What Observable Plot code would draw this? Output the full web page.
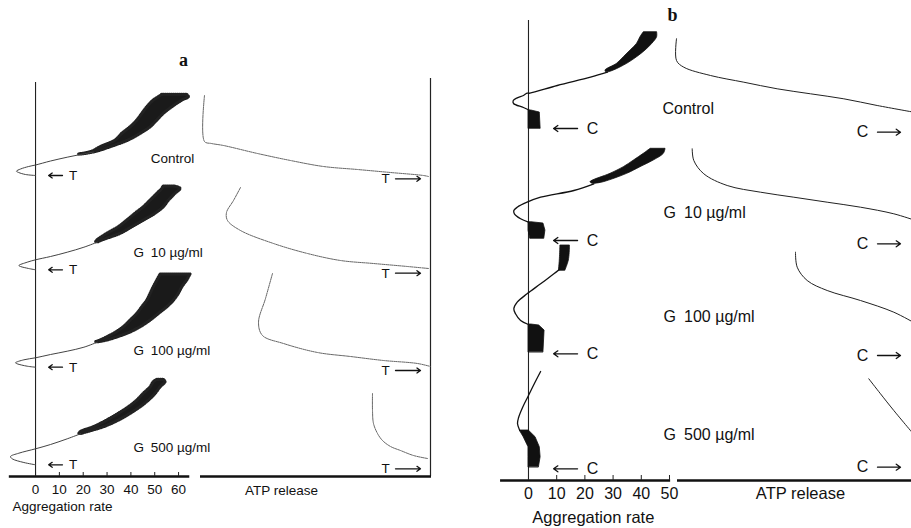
<!DOCTYPE html>
<html><head><meta charset="utf-8">
<script src="https://cdn.jsdelivr.net/npm/d3@7"></script>
<script src="https://cdn.jsdelivr.net/npm/@observablehq/plot@0.6"></script>
<style>
html,body{margin:0;padding:0;background:#fff;}
#fig{position:relative;width:911px;height:528px;overflow:hidden;background:#fff;}
#fig svg{position:absolute;top:0;overflow:visible;}
</style></head><body><div id="fig"></div>
<script>
// ---------- tick labels & conditions ----------
const aTicks = [0, 10, 20, 30, 40, 50, 60];
const bTicks = [0, 10, 20, 30, 40, 50];
const conditions = ["Control", "G\u200210 µg/ml", "G\u2002100 µg/ml", "G\u2002500 µg/ml"];

// ---------- panel a: aggregation traces ----------
// start of trace: [rate, time]
const aCtrlLine = [[0,301],[-4.2,302],[-7.1,304],[-8.0,305.3],[-6.3,307.5],[-2.9,310],[0,311.5],[6.3,315.5],[13.3,319.3],[18.9,322],[24.4,324.5]];
const a10Line   = [[0,206.7],[-2.9,208],[-6.3,210],[-7.0,211],[-3.5,214.3],[0,216.7],[6.3,220],[13.3,224.3],[20.3,229.3],[25.9,234.3]];
const a100Line  = [[0,109.3],[-3.5,110.3],[-7.7,112.7],[-8.4,113.7],[-4.9,116.7],[0,118.7],[6.3,122],[13.3,125.3],[20.3,129.3],[25.9,134.3]];
const a500Line  = [[0,11.7],[-4.9,14],[-9.8,17.7],[-10.5,20],[-7,23.3],[0,27.7],[6.3,32],[13.3,37.7],[18.9,42.7]];
// oscillating band: [time, low rate, high rate]
const aCtrlBand = [[322,18.3,19.3],[324.5,23.5,25.2],[329.3,27.3,31.5],[336,33.6,39],[342.7,36.4,44.1],[349.3,39.9,48.3],[356,42.7,51.1],[362.7,44.8,53.8],[369.3,46.9,57.4],[376,49.6,61.6],[379.3,51.7,64.3],[381.7,53.2,63.6]];
const a10Band   = [[234.3,25.4,26.4],[236,25.9,28],[242.7,30.1,35.7],[249.3,34.9,40.6],[256,38.5,45.5],[262.7,41.9,50.3],[269.3,45.4,53.8],[276,48.3,56],[282.7,51.1,58.7],[287.7,53.2,60.8],[290,53.7,57.9]];
const a100Band  = [[134.3,25.4,26.4],[136,27.3,30.1],[142.7,32.9,38.5],[149.3,37,44.1],[156,39.9,48.3],[162.7,42.7,51.8],[169.3,44.8,55.3],[176,46.9,58.1],[182.7,48.3,60.1],[189.3,49.6,61.6],[196,51.1,63.6],[202,52.5,65]];
const a500Band  = [[42.7,18.4,19.4],[44.3,18.9,21.7],[49.3,24.5,28.7],[56,30.1,35],[62.7,34.9,39.9],[69.3,39.2,44.1],[76,42.7,47.6],[82.7,45.4,50.4],[89.3,48.3,52.5],[94.3,49.6,54.5],[96.7,51.1,53.8]];
// ATP release traces: [ATP (arb. units, 0 at baseline), time]
const aCtrlATP = [[226,381],[226,335],[219,333],[207,331],[173,323],[140,316],[107,310],[73,307],[40,304],[7,301],[2,300]];
const a10ATP   = [[190,289],[197,276],[204,264],[203,256],[190,246],[157,233],[123,223],[90,216],[57,213],[23,210],[2,208]];
const a100ATP  = [[158,203],[165,178],[172,154],[168,141],[147,133],[113,124],[80,120],[47,116],[13,113],[0,110]];
const a500ATP  = [[58,83],[58,66],[57,53],[53,43],[48,36],[40,30],[30,26],[17,21],[3,18]];
// stimulus (T = thrombin) marks, time
const aStimAgg = [301, 206.7, 109.3, 11.7];
const aStimATP = [297.7, 203.3, 106, 7.7];

// ---------- panel b ----------
const bCtrlBlock = [[352,0,4.3],[368,0,4.0],[370,0,1]];
const b10Block   = [[242,0.6,5.6],[250,0,6.0],[257,0,5.3],[258.3,0,1]];
const b100Block  = [[128.3,0,5.3],[150,0,5.7],[155,0,3.8],[156,0,1]];
const b500Block  = [[13.3,0,3.7],[23.3,0,4.3],[33.3,0,4.0],[43.3,-1.7,2.5],[50,-3.1,0.1]];
const bCtrlLine = [[0.5,370],[-1.8,373],[-5.3,377],[-5.4,380],[-4,382.7],[-1.8,385],[-0.5,387.3],[0.5,387.3],[10.2,395],[22,403.3],[28,408.3]];
const b10Line   = [[0,258.3],[-2.8,261.7],[-5,266.7],[-5.2,270],[-4,273.3],[-0.5,278.3],[4.3,283.3],[16.1,290],[23.2,296.7]];
const b100Line  = [[0,156],[-2.8,160],[-4.6,166.7],[-5.2,171.7],[-4,178.3],[-0.5,186.7],[4.3,196.7],[9,206.7],[11.3,211.7]];
const b500Line  = [[-3.1,50],[-3.9,57],[-3.5,63],[-2.1,73],[0,85],[2.1,97],[4.3,109]];
const bCtrlBand = [[408.3,27.5,28.5],[410,27.3,30.3],[416.7,31.4,35],[423.3,33.8,38.5],[430,36.2,41.5],[436.7,38.5,43.9],[443.3,39.7,45.6],[448.3,40.9,45.6]];
const b10Band   = [[296.7,22.7,23.7],[298.3,22,26.7],[306.7,29.1,35],[313.3,33.8,39.7],[320,37.4,44.4],[326.7,40.9,48],[331.7,43.3,48.6]];
const b100Band  = [[210,10.8,13.1],[220,11.1,14.3],[233.3,11.3,14.7],[235,11.3,14.7]];
const bCtrlATP = [[239,441.7],[239,420],[231.7,413.3],[205,405],[171.7,398.3],[138.3,391.7],[105,386.7],[71.7,381.7],[38.3,375],[0,368]];
const b10ATP   = [[223.3,331.7],[221.7,320],[211.7,306.7],[188.3,295],[155,288.3],[121.7,283.3],[88.3,278.3],[55,273.3],[21.7,266.7],[0,260]];
const b100ATP  = [[120,228.3],[118.3,213.3],[108.3,200],[88.3,190],[55,180],[21.7,168.3],[0,157]];
const b500ATP  = [[46.7,101.7],[35,86.7],[21.7,70],[0,44]];
// stimulus (C = collagen) marks, time
const bStimAgg = [352, 240, 126.7, 11.7];
const bStimATP = [348.3, 236.7, 125, 13.3];

// ---------- helpers ----------
const pts = (arrs) => arrs.flatMap((a, i) => a.map(([x, t]) => ({x, t, c: conditions[i]})));
const bands = (arrs) => arrs.flatMap((a, i) => a.map(([t, x1, x2]) => ({t, x1, x2, c: conditions[i]})));
const SANS = "Liberation Sans, Arial, Helvetica, sans-serif";
const SERIF = "Liberation Serif, Times New Roman, serif";
const fig = document.getElementById("fig");
function place(svg, left) { svg.style.left = left + "px"; fig.appendChild(svg); }
const base = (w, xd, yd) => ({
  width: w, height: 528, margin: 0,
  x: {domain: xd, range: [0, w], axis: null},
  y: {domain: yd, range: [528, 0], axis: null},
  style: {overflow: "visible", background: "transparent", fontFamily: SANS, color: "#111"}
});
const aBandData = bands([aCtrlBand, a10Band, a100Band, a500Band]);

// ---------- panel a, aggregation ----------
place(Plot.plot({
  ...base(200, [-14.7, 69.2], [-52, 476]),
  marks: [
    Plot.ruleX([0], {y1: 0, y2: 394, stroke: "#222", strokeWidth: 1.1}),
    Plot.ruleY([0], {x1: -11, x2: 64.7, stroke: "#111", strokeWidth: 2.6}),
    Plot.ruleX(aTicks, {x: d => d, y1: 0, y2: 4, stroke: "#222", strokeWidth: 1}),
    Plot.text(aTicks, {x: d => d, y: -13, text: d => String(d), fontSize: 13.5, fill: "#111"}),
    Plot.text(["Aggregation rate"], {x: 11.3, y: -30, text: d => d, fontSize: 13.5, fill: "#111"}),
    Plot.areaX(aBandData, {y: "t", x1: "x1", x2: "x2", z: "c", fill: "#1a1a1a", curve: "catmull-rom"}),
    Plot.areaX(aBandData, {y: "t", x1: "x1", x2: "x2", z: "c", fill: "none", stroke: "#222", strokeWidth: 3.2, strokeDasharray: "0.7,1.3", curve: "catmull-rom"}),
    Plot.line(pts([aCtrlLine, a10Line, a100Line, a500Line]), {x: "x", y: "t", z: "c", stroke: "#444", strokeWidth: 1, curve: "catmull-rom"}),
    Plot.arrow(aStimAgg, {x1: 11.3, x2: 5.5, y1: d => d, y2: d => d, headLength: 5, headAngle: 70, strokeWidth: 1.3, stroke: "#111", insetStart: 0, insetEnd: 0}),
    Plot.text(aStimAgg, {x: 15.8, y: d => d, text: () => "T", fontSize: 13.5, fill: "#111"}),
    Plot.text(conditions, {x: (d, i) => i === 0 ? 48.3 : 41.1, y: (d, i) => aStimAgg[i] + 17, text: d => d, textAnchor: "start", fontSize: 13.5, fill: "#111"}),
    Plot.text(["a"], {x: 62.1, y: 416, text: d => d, fontFamily: SERIF, fontWeight: "bold", fontSize: 18, fill: "#111"})
  ]
}), 0);

// ---------- panel a, ATP release ----------
place(Plot.plot({
  ...base(240, [230, -10], [-52, 476]),
  marks: [
    Plot.ruleX([0], {y1: 0, y2: 398, stroke: "#222", strokeWidth: 1.2}),
    Plot.ruleY([0], {x1: 230, x2: -1, stroke: "#111", strokeWidth: 2.6}),
    Plot.text(["ATP release"], {x: 149, y: -14, text: d => d, fontSize: 13.5, fill: "#111"}),
    Plot.line(pts([aCtrlATP, a10ATP, a100ATP, a500ATP]), {x: "x", y: "t", z: "c", stroke: "#555", strokeWidth: 0.9, strokeDasharray: "3,1", curve: "catmull-rom"}),
    Plot.arrow(aStimATP, {x1: 35, x2: 10, y1: d => d, y2: d => d, headLength: 5, headAngle: 70, strokeWidth: 1.3, stroke: "#111", insetStart: 0, insetEnd: 0}),
    Plot.text(aStimATP, {x: 45, y: d => d, text: () => "T", fontSize: 13.5, fill: "#111"})
  ]
}), 200);

// ---------- panel b, aggregation ----------
place(Plot.plot({
  ...base(235, [-31.2, 52.13], [-48, 480]),
  marks: [
    Plot.ruleX([0], {y1: 0, y2: 460, stroke: "#222", strokeWidth: 1.1}),
    Plot.ruleY([0], {x1: -9.9, x2: 50.4, stroke: "#111", strokeWidth: 2.6}),
    Plot.ruleX(bTicks, {x: d => d, y1: 0, y2: 5, stroke: "#222", strokeWidth: 1}),
    Plot.text(bTicks, {x: d => d, y: -13, text: d => String(d), fontSize: 16, fill: "#111"}),
    Plot.text(["Aggregation rate"], {x: 23, y: -37, text: d => d, fontSize: 16.5, fill: "#111", letterSpacing: "0.8px"}),
    Plot.areaX(bands([bCtrlBlock, b10Block, b100Block, b500Block]), {y: "t", x1: "x1", x2: "x2", z: "c", fill: "#111", stroke: "#111", strokeWidth: 0.8}),
    Plot.areaX(bands([bCtrlBand, b10Band, b100Band]), {y: "t", x1: "x1", x2: "x2", z: "c", fill: "#111", stroke: "#111", strokeWidth: 0.8, curve: "catmull-rom"}),
    Plot.line(pts([bCtrlLine, b10Line, b100Line, b500Line]), {x: "x", y: "t", z: "c", stroke: "#111", strokeWidth: 1.3, curve: "catmull-rom"}),
    Plot.arrow(bStimAgg, {x1: 17.4, x2: 8.9, y1: d => d, y2: d => d, headLength: 6, headAngle: 70, strokeWidth: 1.3, stroke: "#111", insetStart: 0, insetEnd: 0}),
    Plot.text(bStimAgg, {x: 22.7, y: d => d, text: () => "C", fontSize: 16, fill: "#111"}),
    Plot.text(conditions, {x: (d, i) => i === 0 ? 47.5 : 47.9, y: (d, i) => [372, 268, 164, 46][i], text: d => d, textAnchor: "start", fontSize: 16, fill: "#111"}),
    Plot.text(["b"], {x: 51.1, y: 465, text: d => d, fontFamily: SERIF, fontWeight: "bold", fontSize: 18, fill: "#111"})
  ]
}), 440);

// ---------- panel b, ATP release ----------
place(Plot.plot({
  ...base(236, [240, 4], [-48, 480]),
  marks: [
    Plot.ruleY([0], {x1: 238, x2: -10, stroke: "#111", strokeWidth: 2.6}),
    Plot.text(["ATP release"], {x: 115, y: -13, text: d => d, fontSize: 16.5, fill: "#111", letterSpacing: "0.8px"}),
    Plot.line(pts([bCtrlATP, b10ATP, b100ATP, b500ATP]), {x: "x", y: "t", z: "c", stroke: "#222", strokeWidth: 1, curve: "catmull-rom"}),
    Plot.arrow(bStimATP, {x1: 38, x2: 15, y1: d => d, y2: d => d, headLength: 6, headAngle: 70, strokeWidth: 1.3, stroke: "#111", insetStart: 0, insetEnd: 0}),
    Plot.text(bStimATP, {x: 53, y: d => d, text: () => "C", fontSize: 16, fill: "#111"})
  ]
}), 675);
</script></body></html>
